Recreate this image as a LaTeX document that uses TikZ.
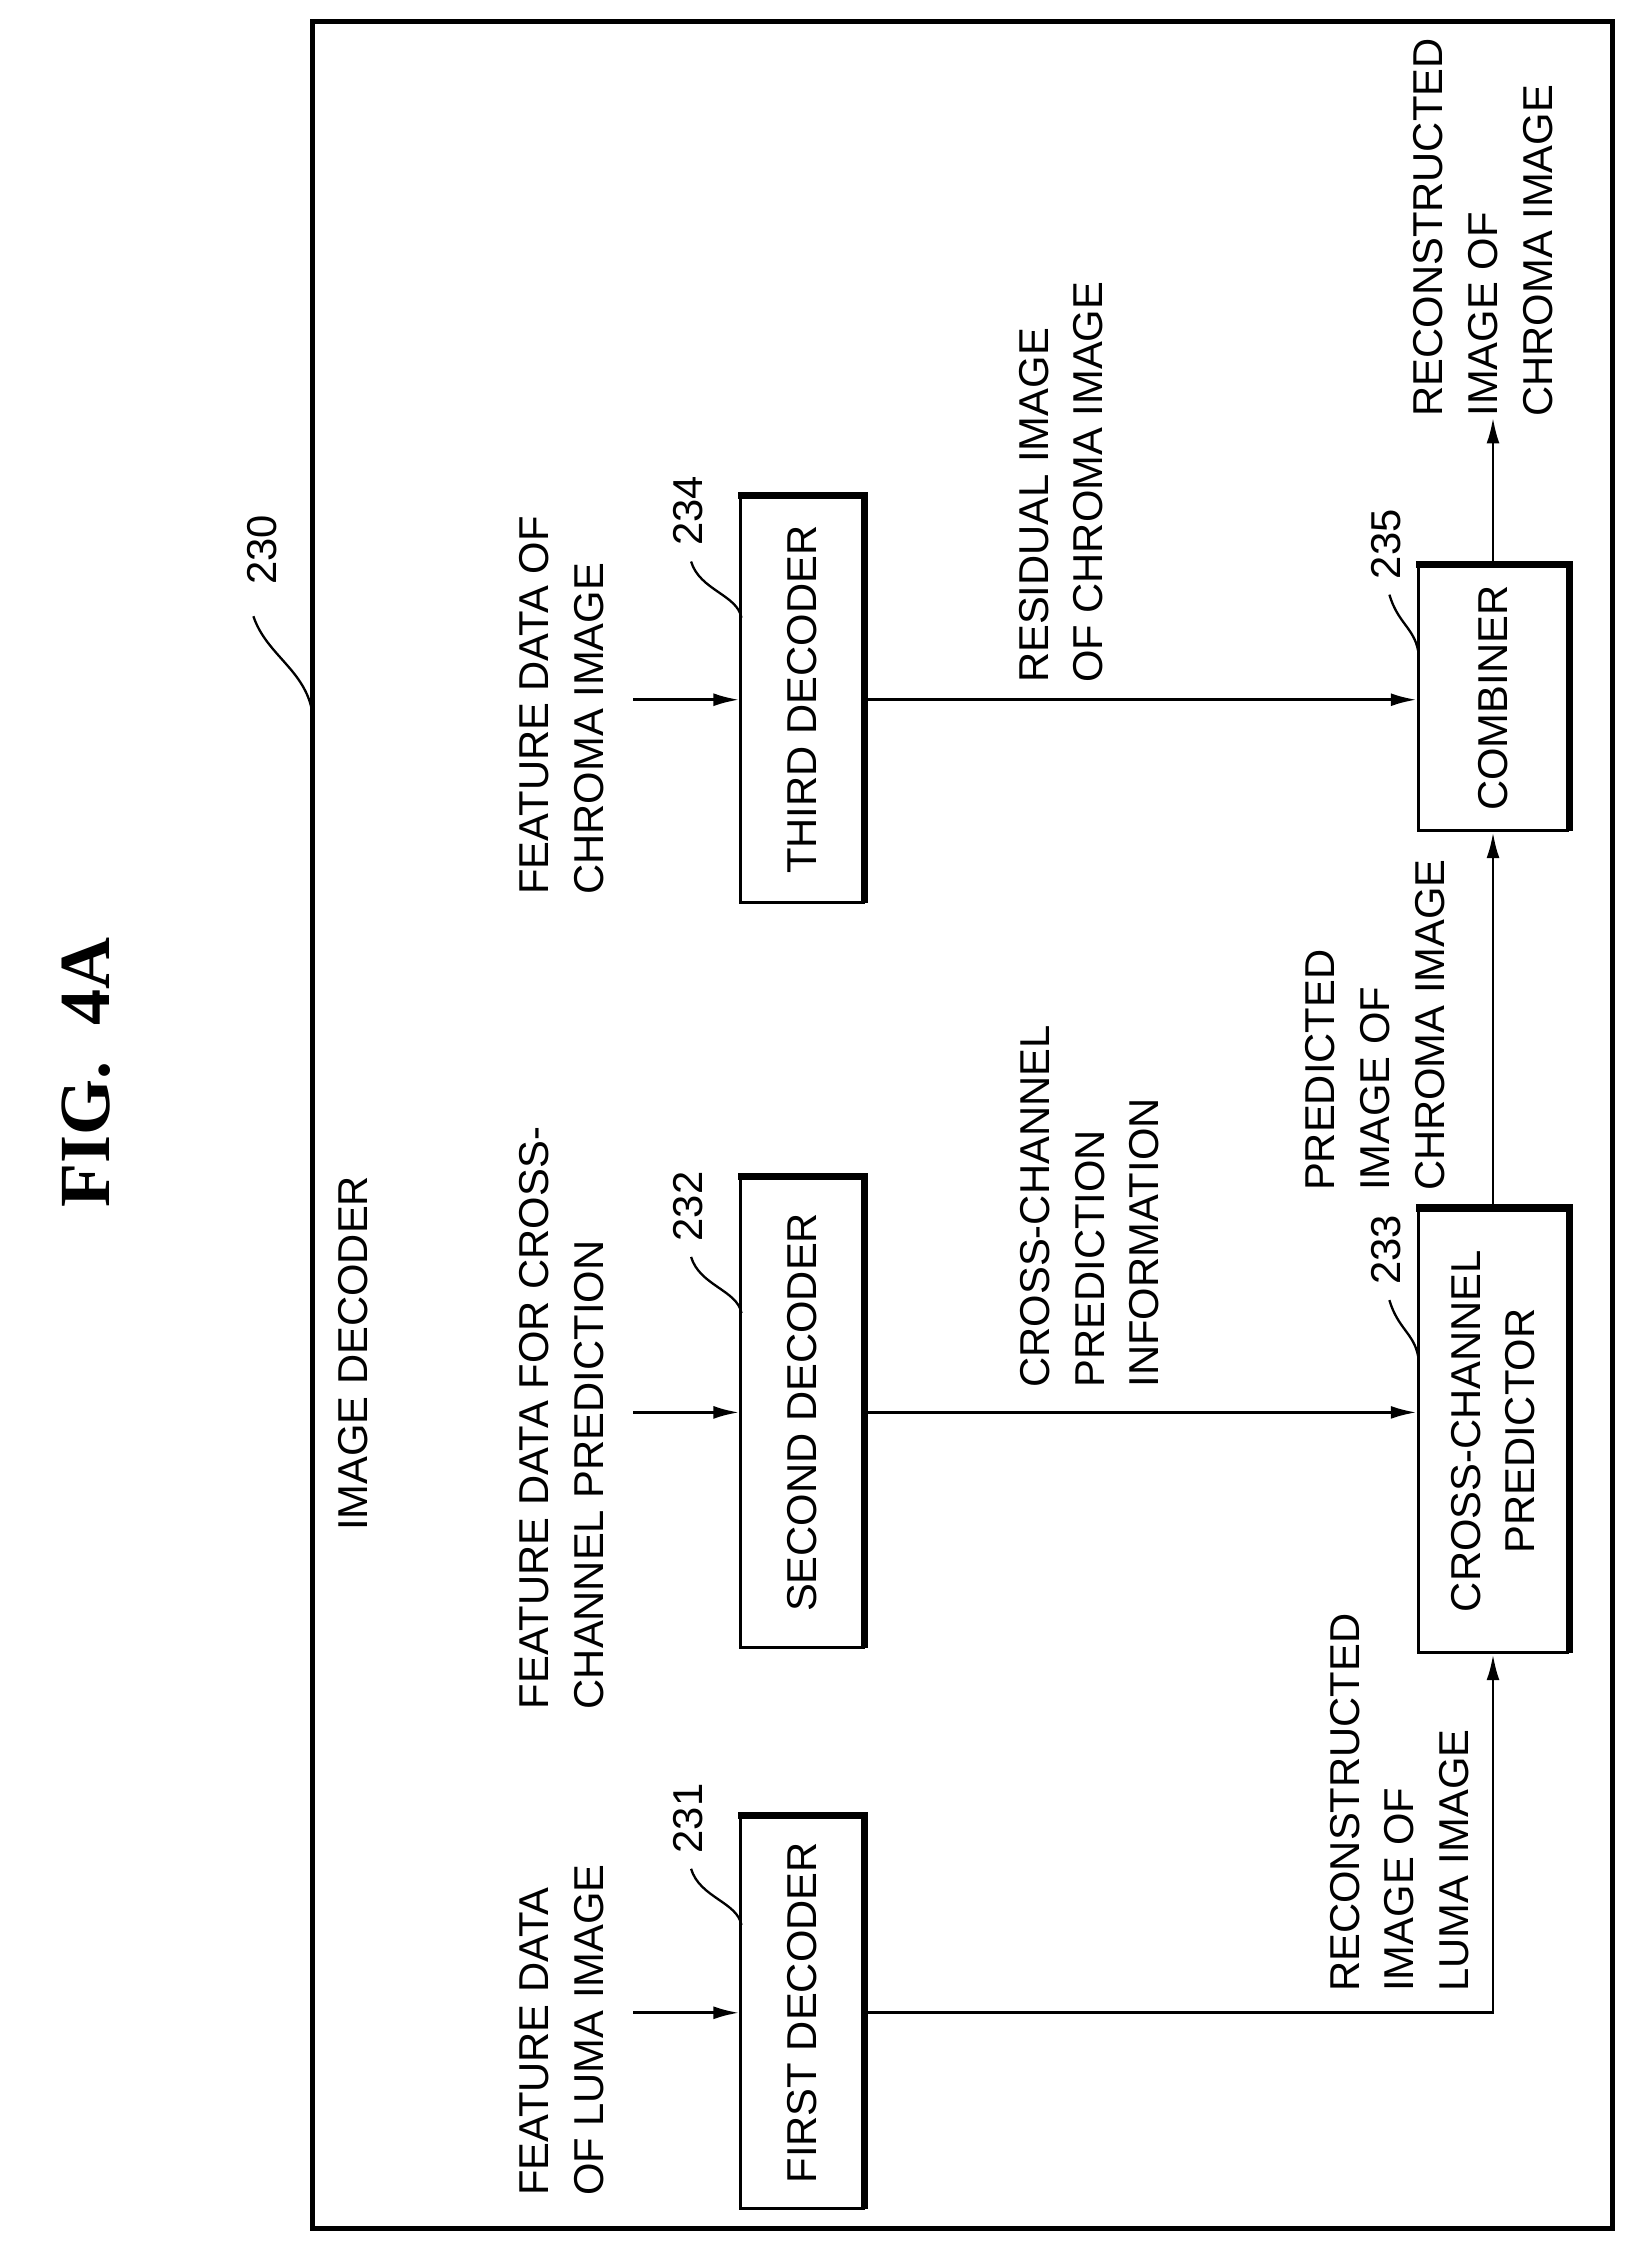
\documentclass[tikz,border=0pt]{standalone}
\usepackage{fontspec}
\setmainfont{Liberation Sans}
\newfontfamily\figfont{Liberation Serif}
\usetikzlibrary{arrows.meta}
\tikzset{arrow/.style={line width=1pt,-{Latex[length=9pt,width=4.5pt]}},
  block/.style={draw,line width=1pt,inner sep=0pt},
  lbl/.style={font=\fontsize{14.5}{19}\selectfont,align=left,rotate=90},
  num/.style={font=\fontsize{14.5}{17}\selectfont,rotate=90}}
\begin{document}
\begin{tikzpicture}[x=0.5pt,y=-0.5pt]
\useasboundingbox (0,0) rectangle (1131,1560);
\draw[line width=1.6pt] (217,15) rectangle (1120,1548);

\node (fig) [rotate=90,font=\figfont\bfseries\fontsize{25}{30}\selectfont] at (60,745) {FIG.\ \ 4A};
\node (title) [lbl] at (245,940) {IMAGE DECODER};
\node (n230) [num] at (182,382) {230};
\coordinate (c230) at (217,495);
\draw[line width=0.8pt] (176,428) .. controls (185,455) and (212,465) .. (c230);

% decoders
\node (dec1) [block,minimum width=42.5pt,minimum height=136pt] at (557,1398) {\rotatebox{90}{\fontsize{14.5}{17}\selectfont FIRST DECODER}};
\node (dec2) [block,minimum width=42.5pt,minimum height=163pt] at (557,981) {\rotatebox{90}{\fontsize{14.5}{17}\selectfont SECOND DECODER}};
\node (dec3) [block,minimum width=42.5pt,minimum height=141pt] at (557,486) {\rotatebox{90}{\fontsize{14.5}{17}\selectfont THIRD DECODER}};
\node (ccp) [block,minimum width=52pt,minimum height=154pt] at (1037,994) {\rotatebox{90}{\parbox{150pt}{\centering\fontsize{14.5}{19}\selectfont CROSS-CHANNEL\\PREDICTOR}}};
\node (comb) [block,minimum width=52pt,minimum height=92pt] at (1037,485) {\rotatebox{90}{\fontsize{14.5}{17}\selectfont COMBINER}};
\foreach \b in {dec1,dec2,dec3,ccp,comb}
  \draw[line width=2.6pt] ([xshift=-0.3pt]\b.north west) -- (\b.north east) -- ([yshift=0.3pt]\b.south east);

% numbers
\foreach \t/\x/\y/\e in {231/478/1263/515,232/478/838/515,234/478/355/515,233/963/868/985,235/963/378/985}{
  \node (n\t) [num] at (\x,\y) {\t};
  \draw[line width=0.8pt] (\x+2,\y+35) .. controls (\x+8,\y+55) and (\e-3,\y+58) .. (\e,\y+74);
}

% inputs
\coordinate (in1) at (440,1398);
\coordinate (in2) at (440,981);
\coordinate (in3) at (440,486);
\node (t1) [lbl] at (390,1410) {FEATURE DATA\\OF LUMA IMAGE};
\node (t2) [lbl] at (390,985) {FEATURE DATA FOR CROSS-\\CHANNEL PREDICTION};
\node (t3) [lbl] at (390,490) {FEATURE DATA OF\\CHROMA IMAGE};
\draw[arrow] (in1) -- (dec1);
\draw[arrow] (in2) -- (dec2);
\draw[arrow] (in3) -- (dec3);

% connections
\draw[arrow] (dec1.east) -| (ccp.south);
\draw[arrow] (dec2.east) -- (dec2.east -| ccp.west);
\draw[arrow] (dec3.east) -- (dec3.east -| comb.west);
\draw[arrow] (ccp.north) -- (comb.south);
\coordinate (out) at (1037,290);
\draw[arrow] (comb.north) -- (out);

\node (l1) [lbl] at (972,1252) {RECONSTRUCTED\\IMAGE OF\\LUMA IMAGE};
\node (l2) [lbl] at (757,838) {CROSS-CHANNEL\\PREDICTION\\INFORMATION};
\node (l3) [lbl] at (737,335) {RESIDUAL IMAGE\\OF CHROMA IMAGE};
\node (l4) [lbl] at (955,712) {PREDICTED\\IMAGE OF\\CHROMA IMAGE};
\node (l5) [lbl] at (1030,158) {RECONSTRUCTED\\IMAGE OF\\CHROMA IMAGE};
\end{tikzpicture}
\end{document}
